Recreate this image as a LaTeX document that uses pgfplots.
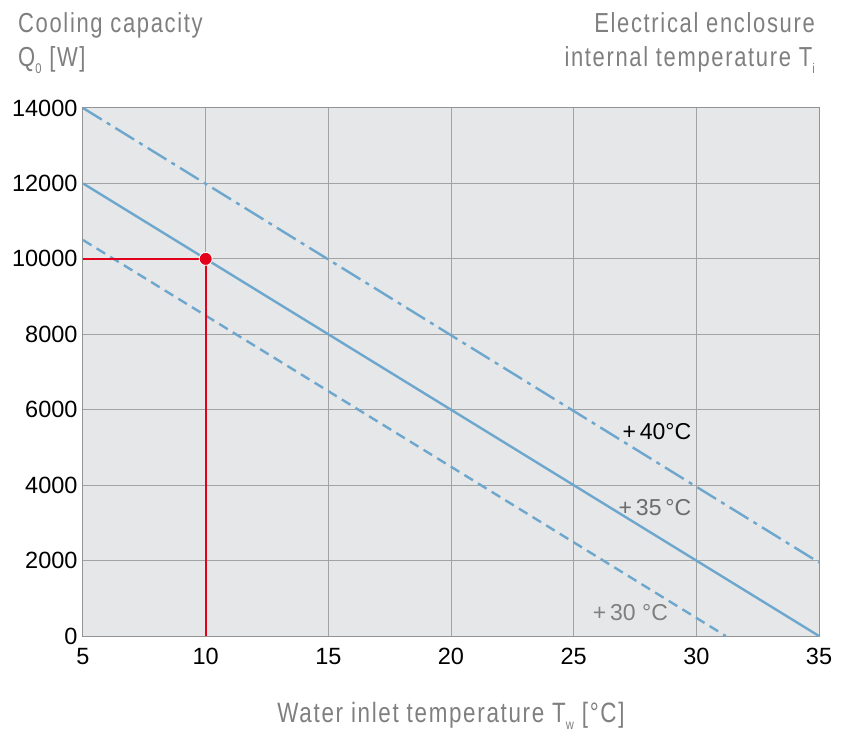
\documentclass[border=0pt]{standalone}
\usepackage{pgfplots}
\pgfplotsset{compat=1.18}
\usepackage{fontspec}
\setmainfont{Liberation Sans}
\newfontfamily\condfont[FakeStretch=0.8,LetterSpace=6]{Liberation Sans}
\definecolor{bgc}{HTML}{E6E7E9}
\definecolor{gridc}{HTML}{A3A3A3}
\definecolor{linec}{HTML}{6EA7CD}
\definecolor{txtg}{HTML}{7F7F7F}
\definecolor{redc}{HTML}{E3001B}
\begin{document}
\begin{tikzpicture}[x=1pt,y=1pt]
\useasboundingbox (-83,-104) rectangle (763,636);
\begin{axis}[
  at={(0,0)}, anchor=south west,
  scale only axis, width=736pt, height=528pt,
  xmin=5, xmax=35, ymin=0, ymax=14000,
  xtick={5,10,...,35}, ytick={0,2000,...,14000},
  scaled y ticks=false,
  yticklabel style={/pgf/number format/1000 sep={}},
  /pgf/number format/assume math mode=true,
  ticklabel style={font=\fontsize{23.5}{27}\selectfont, text=black},
  yticklabel style={xshift=-2pt},
  xticklabel style={yshift=-9pt},
  major tick length=0pt,
  grid=major,
  major grid style={gridc, line width=1pt},
  axis line style={gridc!90!black, line width=1pt},
  axis background/.style={fill=bgc},
  clip=true,
]
\addplot[linec, line width=2.4pt, dash pattern=on 22pt off 6pt on 4pt off 6pt] coordinates {(5,14000) (35,1950)};
\addplot[linec, line width=2.4pt] coordinates {(5,12000) (35,0)};
\addplot[linec, line width=2.4pt, dash pattern=on 10pt off 6pt] coordinates {(5,10500) (31.2,0)};
\addplot[redc, line width=2pt] coordinates {(5,10000) (10,10000)};
\addplot[redc, line width=2pt] coordinates {(10,10000) (10,0)};
\addplot[redc, only marks, mark=*, mark size=6.5pt, mark options={draw=white, line width=0.8pt, fill=redc}] coordinates {(10,10000)};
\node[anchor=base east, font=\fontsize{23}{27}\selectfont, text=black, inner sep=0pt] at (axis cs:29.8,5200) {+\,40°C};
\node[anchor=base east, font=\fontsize{23}{27}\selectfont, text=txtg!85!black, inner sep=0pt] at (axis cs:29.8,3200) {+\,35\,°C};
\node[anchor=base east, font=\fontsize{23}{27}\selectfont, text=txtg, inner sep=0pt] at (axis cs:28.85,420) {+\,30 °C};
\end{axis}
\node[anchor=base west, inner sep=0pt, text=txtg, font=\condfont\fontsize{27.5}{31}\selectfont] at (-65,603) {Cooling capacity};
\node[anchor=base west, inner sep=0pt, text=txtg, font=\condfont\fontsize{27.5}{31}\selectfont] at (-65,569) {Q\raisebox{-0.25em}{\fontsize{14}{16}\selectfont 0} [W]};
\node[anchor=base east, inner sep=0pt, text=txtg, font=\condfont\fontsize{27.5}{31}\selectfont] at (732,603) {Electrical enclosure};
\node[anchor=base east, inner sep=0pt, text=txtg, font=\condfont\fontsize{27.5}{31}\selectfont] at (732,569) {internal temperature T\raisebox{-0.25em}{\fontsize{14}{16}\selectfont i}};
\node[anchor=base, inner sep=0pt, text=txtg, font=\condfont\fontsize{28}{31}\selectfont] at (368,-86) {Water inlet temperature T\raisebox{-0.25em}{\fontsize{14}{16}\selectfont w} [°C]};
\end{tikzpicture}
\end{document}
